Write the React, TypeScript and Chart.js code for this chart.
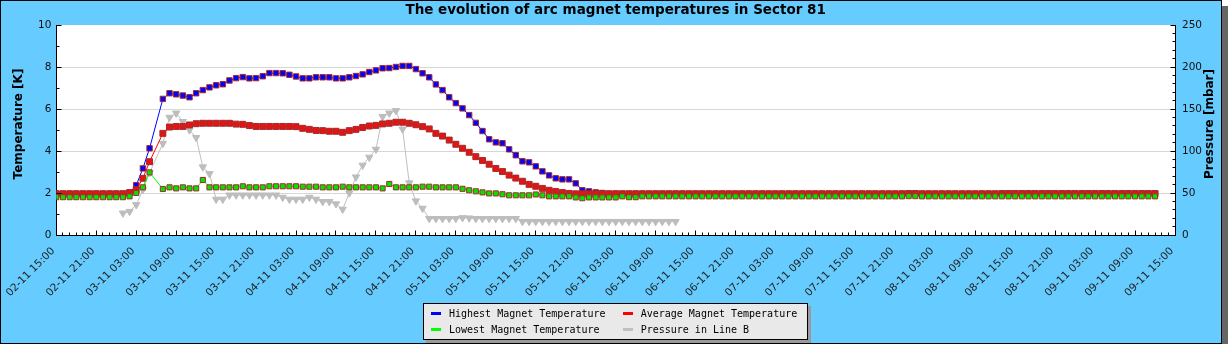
import React, { useEffect, useRef } from 'react';
import { Chart, registerables } from 'chart.js';

Chart.register(...registerables);

const chartTitle = 'The evolution of arc magnet temperatures in Sector 81';
const leftAxisTitle = 'Temperature [K]';
const rightAxisTitle = 'Pressure [mbar]';

const seriesLabels = [
  'Highest Magnet Temperature',
  'Average Magnet Temperature',
  'Lowest Magnet Temperature',
  'Pressure in Line B',
];
const seriesColors = ['#0000ff', '#ff0000', '#00ff00', '#c0c0c0'];

// tick labels every 6 hours, starting 02-11 15:00
const xTickLabels = [
  '02-11 15:00', '02-11 21:00', '03-11 03:00', '03-11 09:00', '03-11 15:00', '03-11 21:00',
  '04-11 03:00', '04-11 09:00', '04-11 15:00', '04-11 21:00', '05-11 03:00', '05-11 09:00',
  '05-11 15:00', '05-11 21:00', '06-11 03:00', '06-11 09:00', '06-11 15:00', '06-11 21:00',
  '07-11 03:00', '07-11 09:00', '07-11 15:00', '07-11 21:00', '08-11 03:00', '08-11 09:00',
  '08-11 15:00', '08-11 21:00', '09-11 03:00', '09-11 09:00', '09-11 15:00',
];

// hourly values (index = hours after 02-11 15:00)
const highestTemp: (number | null)[] = [
  1.97, 1.97, 1.97, 1.97, 1.97, 1.97, 1.97, 1.97, 1.97, 1.97,
  1.97, 2.00, 2.37, 3.17, 4.13, null, 6.48, 6.75, 6.70, 6.64,
  6.56, 6.75, 6.90, 7.03, 7.13, 7.18, 7.36, 7.47, 7.52, 7.46,
  7.47, 7.56, 7.71, 7.71, 7.70, 7.63, 7.55, 7.46, 7.46, 7.51,
  7.51, 7.51, 7.46, 7.46, 7.51, 7.57, 7.65, 7.76, 7.84, 7.94,
  7.95, 8.00, 8.05, 8.05, 7.90, 7.70, 7.51, 7.17, 6.90, 6.56,
  6.28, 6.03, 5.71, 5.34, 4.95, 4.56, 4.41, 4.37, 4.08, 3.80,
  3.51, 3.46, 3.27, 3.03, 2.84, 2.70, 2.65, 2.65, 2.46, 2.13,
  2.08, 2.03, 2.00, 1.97, 1.97, 1.97, 1.97, 1.97, 1.97, 1.97,
  1.97, 1.97, 1.97, 1.97, 1.97, 1.97, 1.97, 1.97, 1.97, 1.97,
  1.97, 1.97, 1.97, 1.97, 1.97, 1.97, 1.97, 1.97, 1.97, 1.97,
  1.97, 1.97, 1.97, 1.97, 1.97, 1.97, 1.97, 1.97, 1.97, 1.97,
  1.97, 1.97, 1.97, 1.97, 1.97, 1.97, 1.97, 1.97, 1.98, 1.98,
  1.97, 1.97, 1.97, 1.97, 1.97, 1.97, 1.97, 1.97, 1.97, 1.97,
  1.97, 1.97, 1.98, 1.98, 1.98, 1.98, 1.98, 1.98, 1.98, 1.98,
  1.98, 1.98, 1.98, 1.98, 1.98, 1.98, 1.98, 1.98, 1.98, 1.98,
  1.98, 1.98, 1.98, 1.98, 1.98, 1.98,
];

const averageTemp: (number | null)[] = [
  1.96, 1.96, 1.96, 1.96, 1.96, 1.96, 1.96, 1.96, 1.96, 1.96,
  1.96, 2.02, 2.16, 2.70, 3.49, null, 4.84, 5.14, 5.17, 5.17,
  5.24, 5.30, 5.32, 5.32, 5.32, 5.32, 5.32, 5.28, 5.27, 5.21,
  5.17, 5.17, 5.17, 5.17, 5.17, 5.17, 5.16, 5.08, 5.03, 4.98,
  4.97, 4.94, 4.94, 4.89, 4.97, 5.03, 5.12, 5.19, 5.22, 5.29,
  5.32, 5.37, 5.37, 5.32, 5.25, 5.16, 5.05, 4.84, 4.71, 4.52,
  4.32, 4.13, 3.94, 3.73, 3.55, 3.37, 3.17, 3.02, 2.85, 2.71,
  2.56, 2.41, 2.32, 2.22, 2.13, 2.07, 2.02, 1.98, 1.96, 1.96,
  1.96, 1.96, 1.96, 1.96, 1.96, 1.96, 1.96, 1.96, 1.96, 1.96,
  1.96, 1.96, 1.96, 1.96, 1.96, 1.96, 1.96, 1.96, 1.96, 1.96,
  1.96, 1.96, 1.96, 1.96, 1.96, 1.96, 1.96, 1.96, 1.96, 1.96,
  1.96, 1.96, 1.96, 1.96, 1.96, 1.96, 1.96, 1.96, 1.96, 1.96,
  1.96, 1.96, 1.96, 1.96, 1.96, 1.96, 1.96, 1.96, 1.97, 1.97,
  1.96, 1.96, 1.96, 1.96, 1.96, 1.96, 1.96, 1.96, 1.96, 1.96,
  1.96, 1.96, 1.97, 1.97, 1.97, 1.97, 1.97, 1.97, 1.97, 1.97,
  1.97, 1.97, 1.97, 1.97, 1.97, 1.97, 1.97, 1.97, 1.97, 1.97,
  1.97, 1.97, 1.97, 1.97, 1.97, 1.97,
];

const lowestTemp: (number | null)[] = [
  1.80, 1.80, 1.80, 1.80, 1.80, 1.80, 1.80, 1.80, 1.80, 1.80,
  1.80, 1.84, 2.00, 2.27, 2.98, null, 2.19, 2.27, 2.22, 2.27,
  2.22, 2.22, 2.62, 2.27, 2.27, 2.27, 2.27, 2.27, 2.32, 2.27,
  2.27, 2.27, 2.32, 2.32, 2.32, 2.32, 2.32, 2.30, 2.30, 2.30,
  2.27, 2.27, 2.27, 2.30, 2.27, 2.27, 2.27, 2.27, 2.27, 2.22,
  2.43, 2.27, 2.27, 2.27, 2.27, 2.30, 2.30, 2.27, 2.27, 2.27,
  2.27, 2.20, 2.13, 2.08, 2.03, 1.98, 1.98, 1.94, 1.89, 1.89,
  1.89, 1.89, 1.93, 1.89, 1.84, 1.84, 1.84, 1.84, 1.79, 1.75,
  1.79, 1.79, 1.79, 1.79, 1.79, 1.84, 1.80, 1.80, 1.84, 1.84,
  1.84, 1.84, 1.84, 1.84, 1.84, 1.84, 1.84, 1.84, 1.84, 1.84,
  1.84, 1.84, 1.84, 1.84, 1.84, 1.84, 1.84, 1.84, 1.84, 1.84,
  1.84, 1.84, 1.84, 1.84, 1.84, 1.84, 1.84, 1.84, 1.84, 1.84,
  1.84, 1.84, 1.84, 1.84, 1.84, 1.84, 1.84, 1.84, 1.85, 1.85,
  1.84, 1.84, 1.84, 1.84, 1.84, 1.84, 1.84, 1.84, 1.84, 1.84,
  1.84, 1.84, 1.84, 1.84, 1.84, 1.84, 1.84, 1.84, 1.84, 1.84,
  1.84, 1.84, 1.84, 1.84, 1.84, 1.84, 1.84, 1.84, 1.84, 1.84,
  1.84, 1.84, 1.84, 1.84, 1.84, 1.84,
];

const pressureLineB: (number | null)[] = [
  null, null, null, null, null, null, null, null, null, null,
  26, 28, 36, 54, 74, null, 109, 140, 145, 135,
  125, 116, 81, 73, 42.5, 42.5, 47.5, 47.5, 47.5, 47.5,
  47.5, 47.5, 47.5, 47.5, 44.8, 42.5, 42.5, 42.5, 44.8, 42.5,
  39.7, 39.7, 37, 30.6, 50, 69, 83, 92.5, 102, 141,
  145, 148, 126, 62, 40.5, 31.7, 19.5, 19.5, 19.5, 19.5,
  19.5, 20.5, 20.2, 19.5, 19.5, 19.5, 19.5, 19.5, 19.5, 19.5,
  16, 16, 16, 16, 16, 16, 16, 16, 16, 16,
  16, 16, 16, 16, 16, 16, 16, 16, 16, 16,
  16, 16, 16, 16,
];

const toPoints = (vals: (number | null)[]) => vals.map((v, i) => ({ x: i, y: v }));

const plotBackground = {
  id: 'plotBackground',
  beforeDraw(chart: any) {
    const { ctx, chartArea } = chart;
    ctx.save();
    ctx.fillStyle = '#ffffff';
    ctx.fillRect(chartArea.left, chartArea.top, chartArea.right - chartArea.left, chartArea.bottom - chartArea.top);
    ctx.restore();
  },
};

const axisDecor = {
  id: 'axisDecor',
  afterDraw(chart: any) {
    const { ctx, chartArea, scales } = chart;
    const { left, right, top, bottom } = chartArea;
    const xs = scales.x;
    const ys = scales.y;
    const ys1 = scales.y1;
    ctx.save();
    ctx.strokeStyle = '#000';
    ctx.lineWidth = 1;
    ctx.beginPath();
    const bx = Math.floor(bottom) + 0.5;
    for (let h = 0; h <= 168; h++) {
      const px = Math.floor(xs.getPixelForValue(h)) + 0.5;
      const len = h % 6 === 0 ? 5 : 3;
      ctx.moveTo(px, bx);
      ctx.lineTo(px, bx - len);
    }
    const lx = Math.floor(left) + 0.5;
    for (let v = 0; v <= 10; v++) {
      const py = Math.floor(ys.getPixelForValue(v)) + 0.5;
      const len = v % 2 === 0 ? 5 : 3;
      ctx.moveTo(lx, py);
      ctx.lineTo(lx + len, py);
    }
    const rx = Math.floor(right) + 0.5;
    for (let v = 0; v <= 250; v += 10) {
      const py = Math.floor(ys1.getPixelForValue(v)) + 0.5;
      const len = v % 50 === 0 ? 5 : 3;
      ctx.moveTo(rx, py);
      ctx.lineTo(rx - len, py);
    }
    ctx.stroke();

    ctx.fillStyle = '#000';
    ctx.font = 'bold 12px "DejaVu Sans"';
    ctx.textAlign = 'center';
    ctx.textBaseline = 'middle';
    const midY = (top + bottom) / 2 - 6;
    ctx.save();
    ctx.translate(left - 37.5, midY);
    ctx.rotate(-Math.PI / 2);
    ctx.fillText(leftAxisTitle, 0, 0);
    ctx.restore();
    ctx.save();
    ctx.translate(right + 35, midY);
    ctx.rotate(-Math.PI / 2);
    ctx.fillText(rightAxisTitle, 0, 0);
    ctx.restore();
    ctx.restore();
  },
};

function Legend() {
  return (
    <div
      style={{
        position: 'absolute',
        left: 422,
        top: 302,
        width: 385,
        height: 37,
        boxSizing: 'border-box',
        border: '1px solid #000',
        background: '#e9e9e9',
        boxShadow: '3px 3px 0 #9a9a9a',
        fontFamily: '"DejaVu Sans Mono", monospace',
        fontSize: 10,
        color: '#000',
      }}
    >
      {seriesLabels.map((lab, i) => (
        <div
          key={lab}
          style={{
            position: 'absolute',
            left: 7 + (i % 2) * 191.7,
            top: 2 + Math.floor(i / 2) * 15.7,
            height: 15,
            display: 'flex',
            alignItems: 'center',
            whiteSpace: 'nowrap',
          }}
        >
          <span style={{ display: 'inline-block', width: 10, height: 3, background: seriesColors[i], marginRight: 8 }} />
          <span>{lab}</span>
        </div>
      ))}
    </div>
  );
}

export default function App() {
  const ref = useRef<HTMLCanvasElement>(null);

  useEffect(() => {
    if (!ref.current) return;
    const squareBorder = '#a52a2a';
    const chart = new Chart(ref.current, {
      type: 'line',
      data: {
        datasets: [
          {
            label: seriesLabels[0],
            data: toPoints(highestTemp),
            yAxisID: 'y',
            borderColor: seriesColors[0],
            borderWidth: 1,
            pointStyle: 'rect',
            pointRadius: 3.8,
            pointBackgroundColor: '#0000ff',
            pointBorderColor: squareBorder,
            pointBorderWidth: 1,
            spanGaps: true,
            tension: 0,
            order: 3,
          },
          {
            label: seriesLabels[1],
            data: toPoints(averageTemp),
            yAxisID: 'y',
            borderColor: seriesColors[1],
            borderWidth: 1,
            pointStyle: 'rect',
            pointRadius: 4.2,
            pointBackgroundColor: '#e31414',
            pointBorderColor: squareBorder,
            pointBorderWidth: 1,
            spanGaps: true,
            tension: 0,
            order: 2,
          },
          {
            label: seriesLabels[2],
            data: toPoints(lowestTemp),
            yAxisID: 'y',
            borderColor: seriesColors[2],
            borderWidth: 1,
            pointStyle: 'rect',
            pointRadius: 3.6,
            pointBackgroundColor: '#00e600',
            pointBorderColor: squareBorder,
            pointBorderWidth: 1,
            spanGaps: true,
            tension: 0,
            order: 1,
          },
          {
            label: seriesLabels[3],
            data: toPoints(pressureLineB),
            yAxisID: 'y1',
            borderColor: seriesColors[3],
            borderWidth: 1,
            pointStyle: 'triangle',
            pointRotation: 180,
            pointRadius: 4.2,
            pointBackgroundColor: '#bdbdbd',
            pointBorderColor: '#bdbdbd',
            pointBorderWidth: 1,
            spanGaps: true,
            tension: 0,
            order: 4,
          },
        ],
      },
      options: {
        animation: false,
        responsive: false,
        maintainAspectRatio: false,
        layout: { padding: 0 },
        events: [],
        plugins: {
          legend: { display: false },
          tooltip: { enabled: false },
          title: {
            display: true,
            text: chartTitle,
            fullSize: false,
            color: '#000',
            font: { family: '"DejaVu Sans"', size: 13.5, weight: 'bold', lineHeight: 1.2 },
            padding: { top: 1, bottom: 6.8 },
          },
        },
        scales: {
          x: {
            type: 'linear',
            min: 0,
            max: 168,
            position: 'bottom',
            grid: { display: false, drawTicks: false },
            border: { display: true, color: '#000', width: 1 },
            ticks: {
              stepSize: 6,
              autoSkip: false,
              maxRotation: 45,
              minRotation: 45,
              padding: 10,
              labelOffset: -3,
              color: '#222',
              font: { family: '"DejaVu Sans"', size: 10.5 },
              callback: (value: any) => {
                const v = Number(value);
                return v % 6 === 0 ? xTickLabels[v / 6] : '';
              },
            },
            afterFit: (s: any) => {
              s.height = 108;
            },
          },
          y: {
            type: 'linear',
            position: 'left',
            min: 0,
            max: 10,
            grid: {
              drawTicks: false,
              color: (c: any) => (c.tick && (c.tick.value === 10 || c.tick.value === 0) ? 'rgba(0,0,0,0)' : '#d6d6d6'),
              lineWidth: 1,
            },
            border: { display: true, color: '#000', width: 1 },
            ticks: {
              stepSize: 2,
              padding: 5,
              color: '#111',
              font: { family: '"DejaVu Sans"', size: 10.5 },
            },
            afterFit: (s: any) => {
              s.width = 54;
            },
          },
          y1: {
            type: 'linear',
            position: 'right',
            min: 0,
            max: 250,
            grid: { display: false, drawTicks: false },
            border: { display: true, color: '#000', width: 1 },
            ticks: {
              stepSize: 50,
              padding: 7,
              color: '#111',
              font: { family: '"DejaVu Sans"', size: 10.5 },
            },
            afterFit: (s: any) => {
              s.width = 46;
            },
          },
        },
      } as any,
      plugins: [plotBackground, axisDecor],
    });
    return () => chart.destroy();
  }, []);

  return (
    <div
      style={{
        position: 'relative',
        width: 1222,
        height: 344,
        boxSizing: 'border-box',
        border: '1px solid #000',
        background: '#66ccff',
        boxShadow: '6px 6px 0 #666666',
      }}
    >
      <style>{'body{margin:0}'}</style>
      <canvas ref={ref} width={1220} height={342} style={{ position: 'absolute', left: 0, top: 0, width: 1220, height: 342 }} />
      <Legend />
    </div>
  );
}
